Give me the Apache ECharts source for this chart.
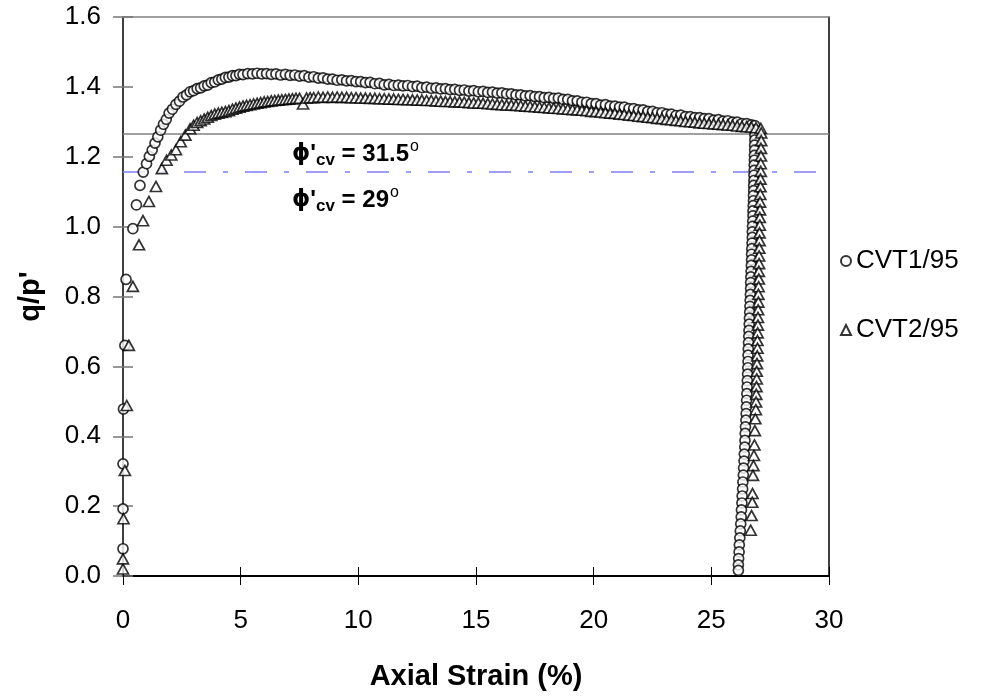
<!DOCTYPE html>
<html>
<head>
<meta charset="utf-8">
<script src="https://cdn.jsdelivr.net/npm/echarts/dist/echarts.min.js"></script>
<style>
html,body{margin:0;padding:0;background:#fff;}
#chart{width:1001px;height:698px;}
</style>
</head>
<body>
<div id="chart"></div>
<script>
// ---- Data ----
var seriesNames = ['CVT1/95', 'CVT2/95'];
var xTickValues = [0, 5, 10, 15, 20, 25, 30];
var yTickValues = [0.0, 0.2, 0.4, 0.6, 0.8, 1.0, 1.2, 1.4, 1.6];

// critical state stress ratios (phi'cv = 31.5 deg and 29 deg)
var phiCvLabels = ["31.5", "29"];
var phiCvRatio = [1.265, 1.156];

// CVT1/95 : shearing branch [axial strain %, q/p']
var cvt1Loading = [
[0,0.078],[0,0.192],[0,0.321],[0.02,0.478],[0.08,0.660],[0.13,0.849],[0.42,0.994],[0.57,1.062],[0.72,1.118],[0.86,1.156],
[1.00,1.180],[1.12,1.201],[1.24,1.219],[1.36,1.239],[1.48,1.257],[1.60,1.276],[1.72,1.293],[1.84,1.307],[1.96,1.325],[2.10,1.336],
[2.25,1.350],[2.40,1.359],[2.55,1.371],[2.70,1.377],[2.85,1.386],[3.00,1.389],[3.15,1.395],[3.30,1.397],[3.45,1.403],[3.60,1.405],
[3.75,1.412],[3.90,1.414],[4.05,1.420],[4.20,1.422],[4.35,1.427],[4.50,1.428],[4.65,1.432],[4.80,1.432],[4.95,1.436],[5.10,1.435],
[5.30,1.438],[5.50,1.437],[5.70,1.439],[5.90,1.437],[6.10,1.438],[6.30,1.436],[6.50,1.437],[6.70,1.434],[6.90,1.436],[7.10,1.433],
[7.30,1.434],[7.50,1.431],[7.70,1.432],[7.90,1.428],[8.10,1.429],[8.30,1.425],[8.50,1.426],[8.70,1.422],[8.90,1.422],[9.10,1.419],
[9.30,1.420],[9.50,1.417],[9.70,1.418],[9.90,1.415],[10.1,1.415],[10.3,1.412],[10.5,1.413],[10.7,1.409],[10.9,1.410],[11.1,1.406],
[11.3,1.407],[11.5,1.404],[11.7,1.405],[11.9,1.403],[12.1,1.404],[12.3,1.401],[12.5,1.402],[12.7,1.398],[12.9,1.399],[13.1,1.396],
[13.3,1.397],[13.5,1.394],[13.7,1.395],[13.9,1.392],[14.1,1.393],[14.3,1.390],[14.5,1.391],[14.7,1.388],[14.9,1.389],[15.1,1.386],
[15.3,1.387],[15.5,1.384],[15.7,1.385],[15.9,1.382],[16.1,1.383],[16.3,1.380],[16.5,1.380],[16.7,1.377],[16.9,1.377],[17.1,1.374],
[17.3,1.375],[17.5,1.372],[17.7,1.372],[17.9,1.369],[18.1,1.370],[18.3,1.367],[18.5,1.368],[18.7,1.364],[18.9,1.364],[19.1,1.360],
[19.3,1.360],[19.5,1.356],[19.7,1.356],[19.9,1.352],[20.1,1.352],[20.3,1.348],[20.5,1.349],[20.7,1.345],[20.9,1.345],[21.1,1.342],
[21.3,1.342],[21.5,1.338],[21.7,1.338],[21.9,1.334],[22.1,1.334],[22.3,1.330],[22.5,1.330],[22.7,1.326],[22.9,1.326],[23.1,1.322],
[23.3,1.322],[23.5,1.318],[23.7,1.319],[23.9,1.315],[24.1,1.315],[24.3,1.312],[24.5,1.312],[24.7,1.309],[24.9,1.309],[25.1,1.305],
[25.3,1.306],[25.5,1.302],[25.7,1.303],[25.9,1.299],[26.1,1.299],[26.3,1.295],[26.5,1.295],[26.7,1.291],[26.85,1.289]
];

// CVT1/95 : final branch falling at constant strain
var cvt1Unloading = [
[26.86,1.276],[26.85,1.262],[26.85,1.248],[26.84,1.233],[26.84,1.219],[26.83,1.204],[26.83,1.190],[26.82,1.176],[26.82,1.161],[26.81,1.147],
[26.81,1.132],[26.80,1.118],[26.80,1.103],[26.79,1.089],[26.79,1.074],[26.78,1.060],[26.77,1.045],[26.77,1.031],[26.76,1.016],[26.75,1.001],
[26.74,0.985],[26.74,0.969],[26.73,0.953],[26.72,0.937],[26.71,0.921],[26.71,0.905],[26.70,0.889],[26.69,0.872],[26.68,0.856],[26.67,0.840],
[26.67,0.823],[26.66,0.806],[26.65,0.789],[26.64,0.772],[26.63,0.755],[26.62,0.738],[26.61,0.721],[26.60,0.703],[26.59,0.686],[26.58,0.668],
[26.57,0.650],[26.56,0.632],[26.56,0.614],[26.55,0.596],[26.54,0.578],[26.53,0.559],[26.52,0.541],[26.51,0.522],[26.50,0.503],[26.49,0.484],
[26.48,0.465],[26.47,0.446],[26.45,0.427],[26.44,0.408],[26.43,0.388],[26.42,0.369],[26.40,0.349],[26.39,0.329],[26.37,0.309],[26.36,0.289],
[26.34,0.269],[26.33,0.249],[26.31,0.229],[26.30,0.209],[26.28,0.189],[26.27,0.169],[26.25,0.149],[26.23,0.129],[26.21,0.109],[26.19,0.089],
[26.18,0.069],[26.16,0.050],[26.15,0.032],[26.15,0.016]
];

// CVT2/95 : shearing branch
var cvt2Loading = [
[0,0.020],[0,0.049],[0.02,0.164],[0.08,0.302],[0.16,0.488],[0.25,0.660],[0.42,0.829],[0.68,0.948],[0.85,1.017],[1.10,1.072],
[1.40,1.115],[1.65,1.166],[1.85,1.190],[2.05,1.205],[2.25,1.220],[2.45,1.243],[2.65,1.262],[2.85,1.280],[3.00,1.290],[3.15,1.298],
[3.30,1.303],[3.45,1.308],[3.60,1.313],[3.75,1.318],[3.90,1.322],[4.05,1.325],[4.20,1.327],[4.35,1.329],[4.50,1.332],[4.65,1.336],
[4.80,1.339],[4.95,1.342],[5.10,1.345],[5.25,1.347],[5.40,1.349],[5.55,1.351],[5.70,1.353],[5.85,1.355],[6.00,1.357],[6.15,1.358],
[6.30,1.360],[6.45,1.361],[6.60,1.362],[6.75,1.363],[6.90,1.364],[7.05,1.365],[7.20,1.366],[7.35,1.367],[7.50,1.367],[7.65,1.351],
[7.80,1.368],[7.95,1.369],[8.10,1.369],[8.30,1.371],[8.50,1.370],[8.70,1.371],[8.90,1.370],[9.10,1.371],[9.30,1.370],[9.50,1.370],
[9.70,1.369],[9.90,1.369],[10.1,1.368],[10.3,1.368],[10.5,1.367],[10.7,1.367],[10.9,1.366],[11.1,1.366],[11.3,1.365],[11.5,1.365],
[11.7,1.364],[11.9,1.364],[12.1,1.363],[12.3,1.363],[12.5,1.362],[12.7,1.362],[12.9,1.361],[13.1,1.361],[13.3,1.360],[13.5,1.359],
[13.7,1.358],[13.9,1.358],[14.1,1.357],[14.3,1.357],[14.5,1.356],[14.7,1.355],[14.9,1.354],[15.1,1.354],[15.3,1.353],[15.5,1.352],
[15.7,1.351],[15.9,1.350],[16.1,1.349],[16.3,1.348],[16.5,1.348],[16.7,1.347],[16.9,1.346],[17.1,1.345],[17.3,1.344],[17.5,1.343],
[17.7,1.342],[17.9,1.341],[18.1,1.340],[18.3,1.339],[18.5,1.338],[18.7,1.337],[18.9,1.336],[19.1,1.335],[19.3,1.334],[19.5,1.333],
[19.7,1.332],[19.9,1.330],[20.1,1.329],[20.3,1.328],[20.5,1.326],[20.7,1.325],[20.9,1.324],[21.1,1.322],[21.3,1.321],[21.5,1.319],
[21.7,1.318],[21.9,1.316],[22.1,1.315],[22.3,1.313],[22.5,1.312],[22.7,1.310],[22.9,1.309],[23.1,1.307],[23.3,1.306],[23.5,1.304],
[23.7,1.303],[23.9,1.301],[24.1,1.300],[24.3,1.299],[24.5,1.297],[24.7,1.296],[24.9,1.295],[25.1,1.294],[25.3,1.293],[25.5,1.292],
[25.7,1.291],[25.9,1.290],[26.1,1.288],[26.3,1.287],[26.5,1.286],[26.7,1.285],[26.9,1.283],[27.1,1.281]
];

// CVT2/95 : final branch falling at constant strain
var cvt2Unloading = [
[27.12,1.268],[27.12,1.246],[27.11,1.224],[27.11,1.202],[27.10,1.180],[27.10,1.158],[27.09,1.136],[27.09,1.114],[27.08,1.092],[27.07,1.070],
[27.07,1.048],[27.06,1.026],[27.06,1.004],[27.05,0.982],[27.05,0.960],[27.04,0.938],[27.03,0.916],[27.03,0.894],[27.02,0.872],[27.02,0.850],
[27.01,0.828],[27.00,0.806],[27.00,0.784],[26.99,0.762],[26.98,0.740],[26.98,0.718],[26.97,0.696],[26.96,0.674],[26.96,0.652],[26.95,0.630],
[26.94,0.608],[26.93,0.586],[26.93,0.564],[26.92,0.542],[26.91,0.520],[26.90,0.498],[26.89,0.476],[26.87,0.450],[26.85,0.416],[26.83,0.375],
[26.81,0.345],[26.79,0.316],[26.77,0.288],[26.75,0.236],[26.74,0.211],[26.71,0.173],[26.67,0.131]
];

// ---- Chart ----
var FONT = 'Liberation Sans, Arial, sans-serif';
var chart = echarts.init(document.getElementById('chart'), null, {renderer: 'canvas'});

var markerStyle = {color: '#ffffff', borderColor: '#000000', borderWidth: 1.7};

function refLine(v) { return [[xTickValues[0], v], [xTickValues[xTickValues.length - 1], v]]; }

function phiRich() {
  return {
    p: {fontFamily: 'DejaVu Sans, ' + FONT, fontSize: 23, fontWeight: 'bold', fill: '#000'},
    q: {fontFamily: FONT, fontSize: 24, fontWeight: 'bold', fill: '#000'},
    s: {fontFamily: FONT, fontSize: 17, fontWeight: 'bold', fill: '#000', padding: [11, 0, 0, 0]},
    o: {fontFamily: FONT, fontSize: 16, fill: '#000', padding: [0, 0, 15, 1]}
  };
}

var option = {
  animation: false,
  backgroundColor: '#ffffff',
  grid: {left: 123, right: 172, top: 17, bottom: 122, containLabel: false},
  legend: {
    data: seriesNames,
    orient: 'vertical',
    left: 835,
    top: 243,
    itemGap: 43,
    itemWidth: 10,
    itemHeight: 10,
    selectedMode: false,
    textStyle: {fontFamily: FONT, fontSize: 26, color: '#000'}
  },
  xAxis: [
    {
      type: 'value', position: 'bottom', min: 0, max: 30, interval: 5,
      name: 'Axial Strain (%)', nameLocation: 'middle', nameGap: 86,
      nameTextStyle: {fontFamily: FONT, fontSize: 29, fontWeight: 'bold', color: '#000'},
      axisLine: {show: true, onZero: false, lineStyle: {color: '#000', width: 2}},
      axisTick: {show: true, inside: false, length: 9, lineStyle: {color: '#000', width: 1}},
      axisLabel: {fontFamily: FONT, fontSize: 26, color: '#000', margin: 32,
        formatter: function (v) { return String(v); }},
      splitLine: {show: false}
    },
    {
      type: 'value', position: 'bottom', min: 0, max: 30, interval: 5,
      axisLine: {show: false},
      axisTick: {show: true, inside: true, length: 9, lineStyle: {color: '#000', width: 1}},
      axisLabel: {show: false}, splitLine: {show: false}
    },
    {
      type: 'value', position: 'top', min: 0, max: 30,
      axisLine: {show: true, onZero: false, lineStyle: {color: '#808080', width: 1.5}},
      axisTick: {show: false}, axisLabel: {show: false}, splitLine: {show: false}
    }
  ],
  yAxis: [
    {
      type: 'value', position: 'left', min: 0, max: 1.6, interval: 0.2,
      name: "q/p'", nameLocation: 'middle', nameGap: 78, nameRotate: 90,
      nameTextStyle: {fontFamily: FONT, fontSize: 29, fontWeight: 'bold', color: '#000'},
      axisLine: {show: true, onZero: false, lineStyle: {color: '#000', width: 1.5}},
      axisTick: {show: true, inside: false, length: 10, lineStyle: {color: '#777', width: 1.5}},
      axisLabel: {fontFamily: FONT, fontSize: 26, color: '#000', margin: 22,
        formatter: function (v) { return v.toFixed(1); }},
      splitLine: {show: false}
    },
    {
      type: 'value', position: 'left', min: 0, max: 1.6, interval: 0.2,
      axisLine: {show: false},
      axisTick: {show: true, inside: true, length: 10, lineStyle: {color: '#777', width: 1.5}},
      axisLabel: {show: false}, splitLine: {show: false}
    },
    {
      type: 'value', position: 'right', min: 0, max: 1.6,
      axisLine: {show: true, onZero: false, lineStyle: {color: '#000', width: 1.5}},
      axisTick: {show: false}, axisLabel: {show: false}, splitLine: {show: false}
    }
  ],
  series: [
    {
      name: 'phi31.5', type: 'line', xAxisIndex: 0, yAxisIndex: 0,
      data: refLine(phiCvRatio[0]), symbol: 'none', silent: true,
      lineStyle: {color: '#808080', width: 1.5}, z: 1
    },
    {
      name: 'phi29', type: 'line', xAxisIndex: 0, yAxisIndex: 0,
      data: refLine(phiCvRatio[1]), symbol: 'none', silent: true,
      lineStyle: {color: '#7f7ff5', width: 1.5, type: [22, 17, 5, 17]}, z: 1
    },
    {
      name: seriesNames[0], type: 'scatter', xAxisIndex: 0, yAxisIndex: 0,
      data: cvt1Loading.concat(cvt1Unloading), symbol: 'circle', symbolSize: 10,
      itemStyle: markerStyle, z: 3
    },
    {
      name: seriesNames[1], type: 'scatter', xAxisIndex: 0, yAxisIndex: 0,
      data: cvt2Loading.concat(cvt2Unloading), symbol: 'triangle', symbolSize: [11, 10],
      itemStyle: markerStyle, z: 3
    }
  ],
  graphic: [
    {
      type: 'text', left: 292, top: 139, z: 10,
      style: {
        text: '{p|\u03D5}{q|\'}{s|cv}{q| = ' + phiCvLabels[0] + '}{o|o}',
        rich: phiRich()
      }
    },
    {
      type: 'text', left: 292, top: 185, z: 10,
      style: {
        text: '{p|\u03D5}{q|\'}{s|cv}{q| = ' + phiCvLabels[1] + '}{o|o}',
        rich: phiRich()
      }
    }
  ]
};
chart.setOption(option);
</script>
</body>
</html>
